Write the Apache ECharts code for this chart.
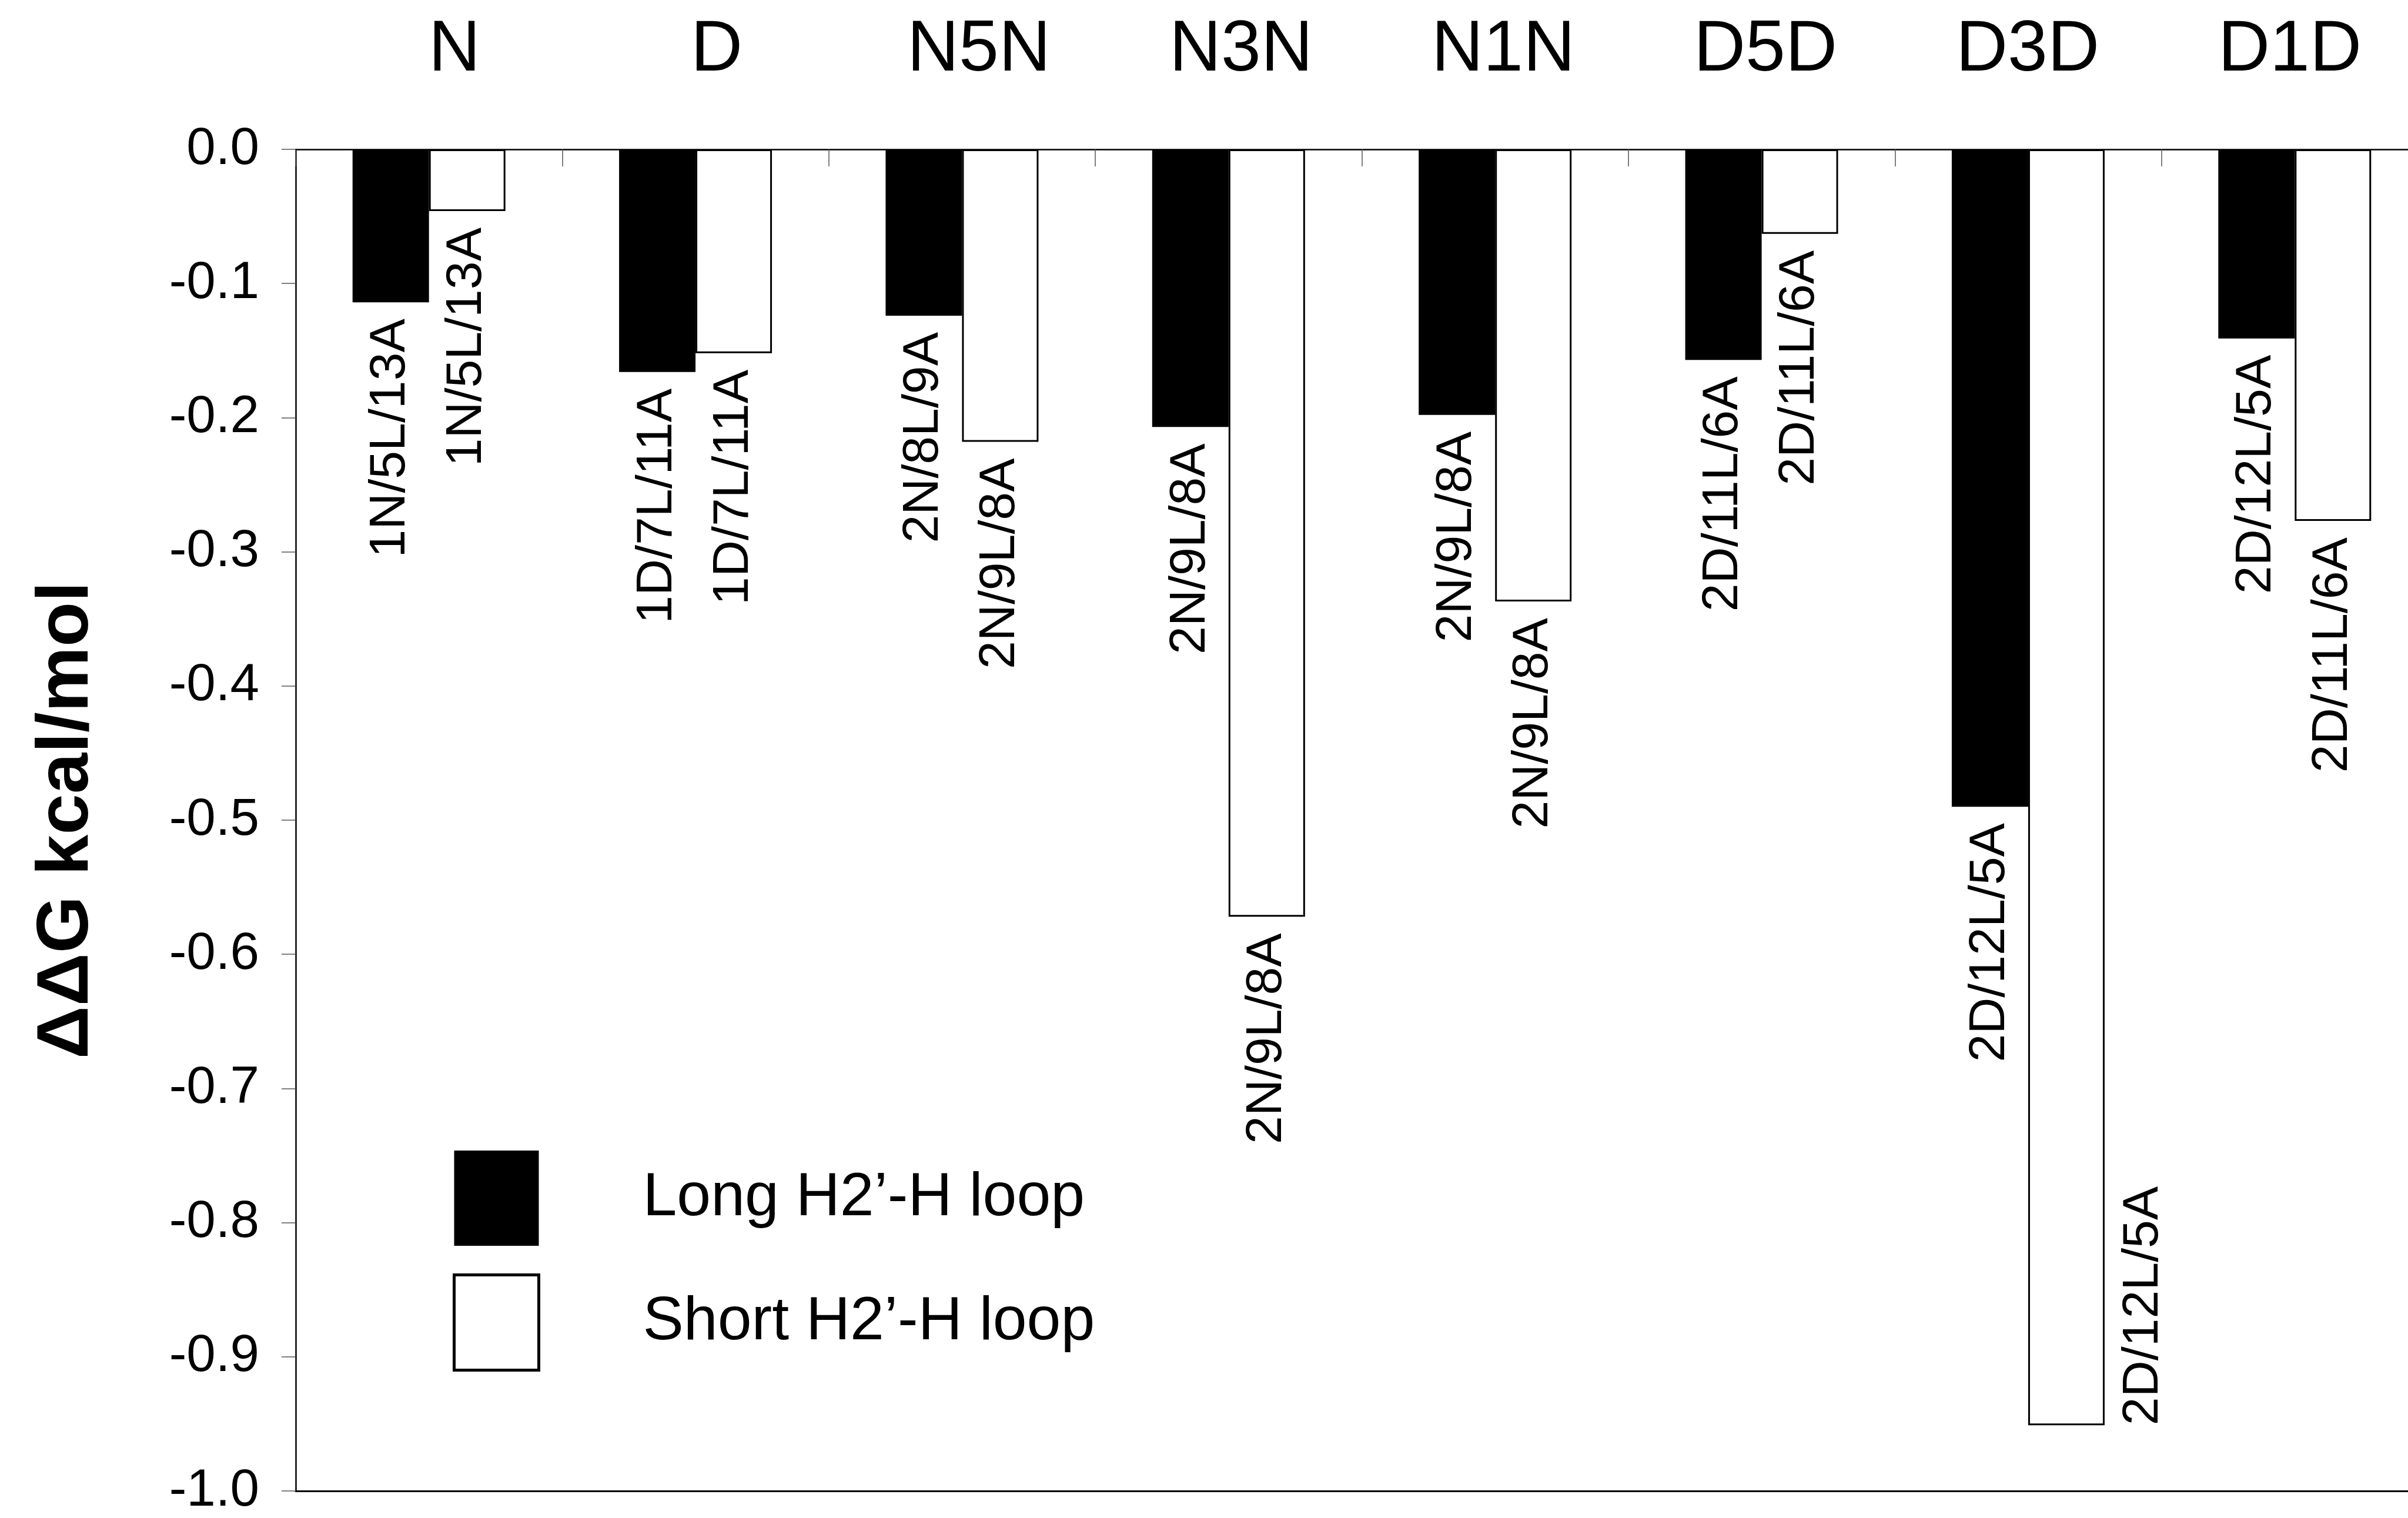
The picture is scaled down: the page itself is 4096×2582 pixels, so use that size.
<!DOCTYPE html>
<html>
<head>
<meta charset="utf-8">
<script src="https://cdn.jsdelivr.net/npm/echarts@6/dist/echarts.min.js"></script>
<style>
  html, body { margin: 0; padding: 0; background: #fff; }
  #chart { width: 4096px; height: 2582px; }
</style>
</head>
<body>
<div id="chart"></div>
<script>
const categories = ['N', 'D', 'N5N', 'N3N', 'N1N', 'D5D', 'D3D', 'D1D'];
const longValues = [-0.114, -0.166, -0.124, -0.207, -0.198, -0.157, -0.490, -0.141];
const shortValues = [-0.046, -0.152, -0.218, -0.572, -0.337, -0.063, -0.951, -0.277];
const longLabels = ['1N/5L/13A', '1D/7L/11A', '2N/8L/9A', '2N/9L/8A', '2N/9L/8A', '2D/11L/6A', '2D/12L/5A', '2D/12L/5A'];
const shortLabels = ['1N/5L/13A', '1D/7L/11A', '2N/9L/8A', '2N/9L/8A', '2N/9L/8A', '2D/11L/6A', '2D/12L/5A', '2D/11L/6A'];
const seriesNames = ['Long H2\u2019-H loop', 'Short H2\u2019-H loop'];
const yAxisTitle = '\u0394\u0394G kcal/mol';
const sideLabelIndex = 6; // short-loop label drawn beside its bar

const FONT = '"Liberation Sans", Arial, Helvetica, sans-serif';

const barLabel = (texts) => ({
  show: true,
  position: 'bottom',
  distance: 28,
  rotate: 90,
  align: 'right',
  verticalAlign: 'middle',
  fontFamily: FONT,
  fontSize: 86,
  color: '#000',
  formatter: (p) => texts[p.dataIndex]
});

const shortData = shortValues.map((v, i) => i === sideLabelIndex
  ? { value: v, label: { position: ['100%', '100%'], align: 'left', verticalAlign: 'top', offset: [0, 23] } }
  : v);

const chart = echarts.init(document.getElementById('chart'), null, { renderer: 'canvas' });
chart.setOption({
  animation: false,
  backgroundColor: '#fff',
  textStyle: { fontFamily: FONT },
  grid: [
    { left: 503, top: 254, width: 3627, height: 2282, containLabel: false, outerBoundsMode: 'none' },
    { left: 550, top: 254, width: 3568, height: 2282, containLabel: false, outerBoundsMode: 'none' }
  ],
  legend: {
    data: [
      { name: seriesNames[0] },
      { name: seriesNames[1], itemStyle: { borderWidth: 5 } }
    ],
    orient: 'vertical',
    left: 770,
    top: 1957,
    padding: 0,
    itemWidth: 144,
    itemHeight: 162,
    itemGap: 47,
    icon: 'rect',
    textStyle: { fontFamily: FONT, fontSize: 104, color: '#000', padding: [0, 0, 0, 172] }
  },
  xAxis: [
    {
      type: 'category',
      gridIndex: 0,
      position: 'top',
      data: categories,
      axisLine: { show: true, onZero: false, lineStyle: { color: '#000', width: 2.5 } },
      axisTick: { show: true, inside: true, length: 29, lineStyle: { color: '#555', width: 1.5 } },
      axisLabel: { show: false },
      splitLine: { show: false }
    },
    {
      type: 'category',
      gridIndex: 0,
      position: 'bottom',
      data: categories,
      axisLine: { show: true, onZero: false, lineStyle: { color: '#000', width: 3 } },
      axisTick: { show: false },
      axisLabel: { show: false },
      splitLine: { show: false }
    },
    {
      type: 'category',
      gridIndex: 1,
      position: 'top',
      data: categories,
      axisLine: { show: false },
      axisTick: { show: false },
      axisLabel: { interval: 0, margin: 107, fontFamily: FONT, fontSize: 122, color: '#000' },
      splitLine: { show: false }
    }
  ],
  yAxis: [
    {
      type: 'value',
      gridIndex: 0,
      min: -1.0,
      max: 0,
      interval: 0.1,
      name: yAxisTitle,
      nameLocation: 'middle',
      nameGap: 326,
      nameTextStyle: { fontFamily: FONT, fontSize: 125, fontWeight: 'bold', color: '#000' },
      axisLine: { show: true, lineStyle: { color: '#000', width: 2.5 } },
      axisTick: { show: true, length: 24, lineStyle: { color: '#555', width: 1.5 } },
      axisLabel: {
        margin: 62, fontFamily: FONT, fontSize: 89, color: '#000',
        formatter: (v) => (Math.abs(v) < 1e-9 ? 0 : v).toFixed(1)
      },
      splitLine: { show: false }
    },
    {
      type: 'value',
      gridIndex: 1,
      min: -1.0,
      max: 0,
      interval: 0.1,
      show: false
    }
  ],
  series: [
    {
      name: seriesNames[0],
      type: 'bar',
      xAxisIndex: 0,
      yAxisIndex: 0,
      data: longValues,
      barWidth: 130,
      barGap: '0%',
      itemStyle: { color: '#000', borderColor: '#000', borderWidth: 0 },
      label: barLabel(longLabels)
    },
    {
      name: seriesNames[1],
      type: 'bar',
      xAxisIndex: 0,
      yAxisIndex: 0,
      data: shortData,
      barWidth: 130,
      barGap: '0%',
      itemStyle: { color: '#fff', borderColor: '#000', borderWidth: 3 },
      label: barLabel(shortLabels)
    }
  ]
});
</script>
</body>
</html>
